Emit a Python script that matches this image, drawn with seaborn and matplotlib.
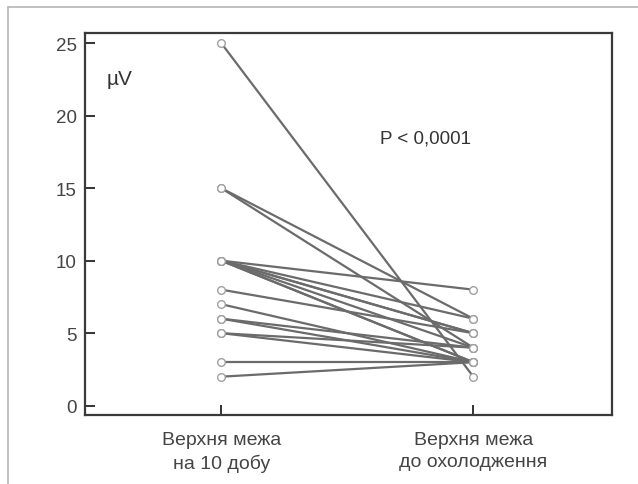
import matplotlib
matplotlib.use("Agg")
import matplotlib.pyplot as plt
from matplotlib.lines import Line2D
import seaborn as sns
import pandas as pd

categories = ["Верхня межа\nна 10 добу", "Верхня межа\nдо охолодження"]
before = [25, 15, 15, 10, 10, 10, 10, 10, 10, 10, 8, 7, 6, 6, 5, 5, 3, 2]
after = [2, 6, 4, 8, 6, 5, 5, 4, 3, 3, 5, 3, 4, 3, 4, 3, 3, 3]
y_ticks = [0, 5, 10, 15, 20, 25]

sns.set_theme(style="white")
plt.rcParams['font.family'] = ['Liberation Sans', 'DejaVu Sans']

rows = []
for i, (b, a) in enumerate(zip(before, after)):
    rows.append({"id": i, "pos": 0, "val": b})
    rows.append({"id": i, "pos": 1, "val": a})
df = pd.DataFrame(rows)

fig = plt.figure(figsize=(6.38, 4.85), dpi=100)
ax = fig.add_axes([85/638, 1-416/485, (612-85)/638, (416-34)/485])

sns.lineplot(data=df, x="pos", y="val", units="id", estimator=None,
             color="#6b6b6b", linewidth=1.6, marker="o", markersize=5.5,
             markerfacecolor="white", markeredgecolor="#a0a0a0",
             markeredgewidth=1.0, ax=ax, legend=False)

ax.set_xlim(-0.54, 1.55)
ax.set_ylim(-0.64, 25.69)
ax.set_xticks([0, 1])
ax.set_xticklabels(categories, fontsize=14, color="#444444", linespacing=1.42)
ax.set_yticks(y_ticks)
ax.set_yticklabels([str(t) for t in y_ticks], fontsize=13.5, color="#444444")
ax.tick_params(axis="both", direction="in", length=7, width=1.4, color="#333333",
               left=True, bottom=True)
ax.tick_params(axis="y", pad=6)
ax.tick_params(axis="x", pad=11.5)
ax.set_xlabel("")
ax.set_ylabel("")
for s in ax.spines.values():
    s.set_color("#3a3a3a")
    s.set_linewidth(1.6)

ax.text(-0.455, 22.2, "µV", fontsize=15, color="#333333", ha="left", va="baseline")
ax.text(0.81, 18.45, "P < 0,0001", fontsize=13.5, color="#333333", ha="center", va="center")

fig.add_artist(Line2D([8/638, 1], [1-8/485, 1-8/485], color="#b5b5b5", linewidth=1.2))
fig.add_artist(Line2D([8/638, 8/638], [0, 1-8/485], color="#b5b5b5", linewidth=1.2))

fig.savefig("out.png", dpi=100, facecolor="white")
